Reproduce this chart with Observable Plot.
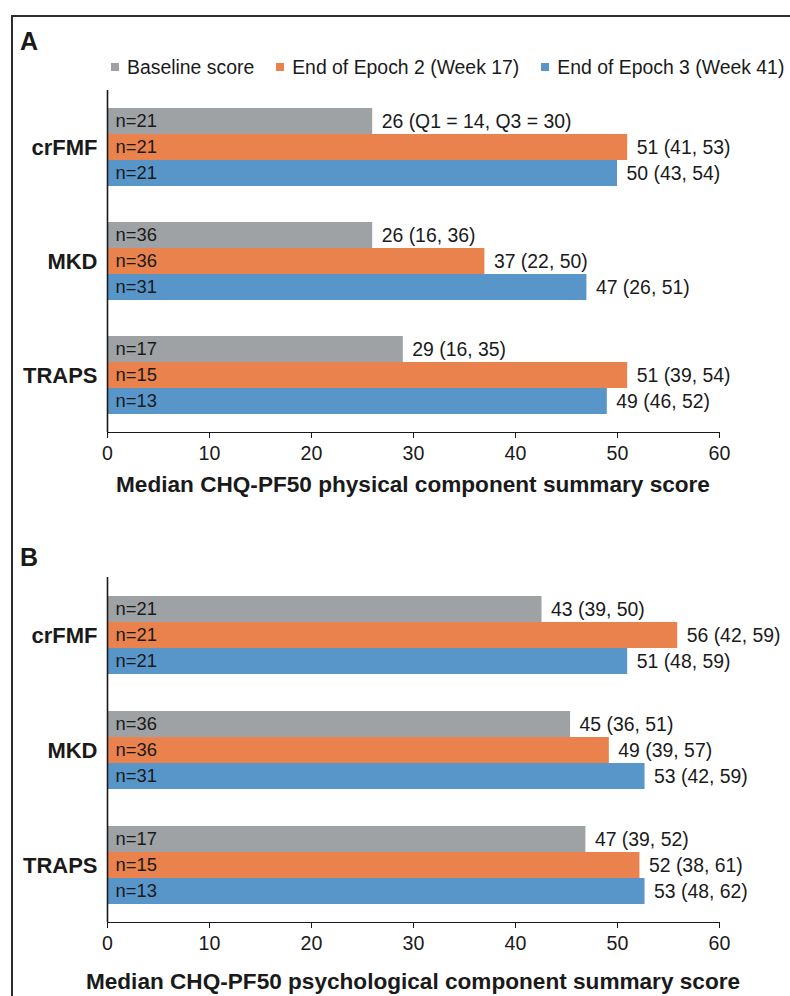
<!DOCTYPE html>
<html>
<head>
<meta charset="utf-8">
<script src="https://cdn.jsdelivr.net/npm/d3@7"></script>
<script src="https://cdn.jsdelivr.net/npm/@observablehq/plot@0.6"></script>
<style>
  html, body { margin: 0; padding: 0; }
  body { width: 790px; height: 996px; overflow: hidden; position: relative; background: #fff;
         font-family: "Liberation Sans", Arial, sans-serif; color: #1a1a1a; }
  #frame { position: absolute; left: 11px; top: 15px; width: 820px; height: 1000px;
           border-left: 2px solid #2e2e2e; border-top: 2px solid #2e2e2e; box-sizing: border-box; }
  .plabel { position: absolute; left: 20px; font-weight: bold; font-size: 25px; line-height: 1; }
  .legend { position: absolute; left: 111px; top: 57px; display: flex; align-items: center;
            gap: 22px; font-size: 19.4px; line-height: 20px; white-space: nowrap; }
  .legend .item { display: flex; align-items: center; gap: 8px; }
  .legend .sw { width: 8px; height: 8px; display: inline-block; }
  .chart { position: absolute; left: 0; }
  .xtitle { position: absolute; left: 13px; width: 800px; text-align: center; font-weight: bold;
            font-size: 22.6px; line-height: 24px; white-space: nowrap; }
  svg { overflow: visible; }
</style>
</head>
<body>
<div id="frame"></div>
<div class="plabel" style="top:29px">A</div>
<div class="legend" id="legend"></div>
<div class="chart" id="chartA" style="top:78px"></div>
<div class="xtitle" id="titleA" style="top:473px"></div>
<div class="plabel" style="top:545px">B</div>
<div class="chart" id="chartB" style="top:566px"></div>
<div class="xtitle" id="titleB" style="top:970px"></div>
<script>
// ---- data ----
const categories = ["crFMF", "MKD", "TRAPS"];
const series = ["Baseline score", "End of Epoch 2 (Week 17)", "End of Epoch 3 (Week 41)"];
const seriesColors = ["#9fa2a5", "#e9824c", "#5896ca"];
const nCounts = [[21, 21, 21], [36, 36, 31], [17, 15, 13]];

const physicalMedians = [[26, 51, 50], [26, 37, 47], [29, 51, 49]];
const physicalLabels = [
  ["26 (Q1 = 14, Q3 = 30)", "51 (41, 53)", "50 (43, 54)"],
  ["26 (16, 36)", "37 (22, 50)", "47 (26, 51)"],
  ["29 (16, 35)", "51 (39, 54)", "49 (46, 52)"]
];
const psychMedians = [[42.6, 55.9, 51], [45.4, 49.2, 52.7], [46.9, 52.2, 52.7]];
const psychLabels = [
  ["43 (39, 50)", "56 (42, 59)", "51 (48, 59)"],
  ["45 (36, 51)", "49 (39, 57)", "53 (42, 59)"],
  ["47 (39, 52)", "52 (38, 61)", "53 (48, 62)"]
];
const xTicks = [0, 10, 20, 30, 40, 50, 60];
const titleA = "Median CHQ-PF50 physical component summary score";
const titleB = "Median CHQ-PF50 psychological component summary score";

// ---- legend ----
const legend = document.getElementById("legend");
series.forEach((s, i) => {
  const it = document.createElement("div");
  it.className = "item";
  const sw = document.createElement("span");
  sw.className = "sw";
  sw.style.background = seriesColors[i];
  const tx = document.createElement("span");
  tx.textContent = s;
  it.appendChild(sw); it.appendChild(tx);
  legend.appendChild(it);
});
document.getElementById("titleA").textContent = titleA;
document.getElementById("titleB").textContent = titleB;

function rowsFor(medians, labels) {
  const rows = [];
  categories.forEach((c, i) => series.forEach((s, j) => {
    rows.push({category: c, series: s, value: medians[i][j], n: nCounts[i][j], label: labels[i][j]});
  }));
  return rows;
}

function panel(rows, areaHeight, marginTop) {
  const marginBottom = 40;
  return Plot.plot({
    width: 790,
    height: marginTop + areaHeight + marginBottom,
    marginLeft: 107, marginRight: 71, marginTop, marginBottom,
    style: {fontFamily: '"Liberation Sans", Arial, sans-serif', fontSize: "19.6px", color: "#1a1a1a", background: "transparent", overflow: "visible"},
    x: {domain: [0, 60], ticks: xTicks, tickSize: 6, tickPadding: 8, label: null, line: true},
    y: {domain: series, paddingInner: 0, paddingOuter: 0.667, axis: null},
    fy: {domain: categories, padding: 0, axis: null},
    color: {domain: series, range: seriesColors},
    marks: [
      Plot.barX(rows, {fy: "category", y: "series", x1: 0, x2: "value", fill: "series"}),
      Plot.ruleX([0], {stroke: "#1a1a1a", strokeWidth: 1.6}),
      Plot.text(rows, {fy: "category", y: "series", x: 0, text: d => "n=" + d.n, textAnchor: "start", dx: 8, fontSize: 18.4}),
      Plot.text(rows, {fy: "category", y: "series", x: "value", text: "label", textAnchor: "start", dx: 9, fontSize: 19.4}),
      Plot.text(categories, {fy: d => d, y: () => series[1], frameAnchor: "left", text: d => d, textAnchor: "end", dx: -10, fontWeight: "bold", fontSize: 22})
    ]
  });
}

document.getElementById("chartA").appendChild(panel(rowsFor(physicalMedians, physicalLabels), 342, 12));
document.getElementById("chartB").appendChild(panel(rowsFor(psychMedians, psychLabels), 346, 10));
</script>
</body>
</html>
